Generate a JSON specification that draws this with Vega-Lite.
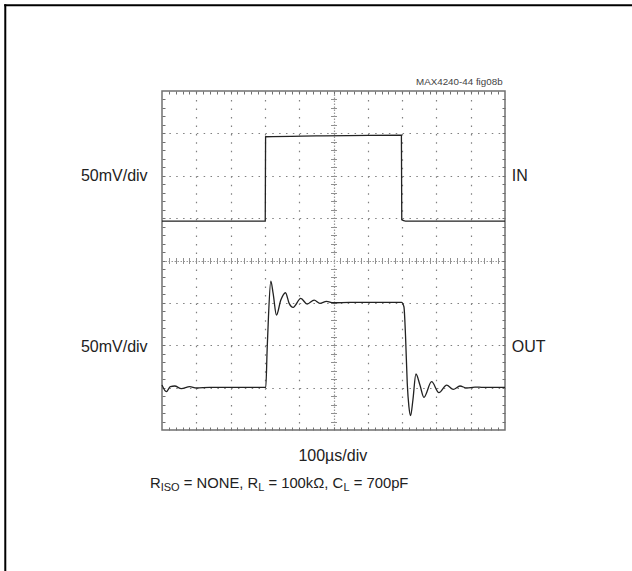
{
  "$schema": "https://vega.github.io/schema/vega-lite/v6.json",
  "width": 343,
  "height": 339,
  "autosize": {"type": "none"},
  "padding": {"left": 162, "top": 91, "right": 127, "bottom": 141},
  "background": "white",
  "config": {"view": {"stroke": "#707070", "strokeWidth": 1.5}},
  "datasets": {
    "traces": [
      {"trace": "IN", "t": 0, "v": 4.93},
      {"trace": "IN", "t": 3.01, "v": 4.93},
      {"trace": "IN", "t": 3.02, "v": 6.92},
      {"trace": "IN", "t": 4.5, "v": 6.94},
      {"trace": "IN", "t": 6.98, "v": 6.96},
      {"trace": "IN", "t": 6.99, "v": 4.96},
      {"trace": "IN", "t": 7.1, "v": 4.93},
      {"trace": "IN", "t": 10, "v": 4.93},
      {"trace": "OUT", "t": 0.0, "v": 1.061},
      {"trace": "OUT", "t": 0.127, "v": 0.904},
      {"trace": "OUT", "t": 0.244, "v": 1.022},
      {"trace": "OUT", "t": 0.371, "v": 1.038},
      {"trace": "OUT", "t": 0.565, "v": 0.975},
      {"trace": "OUT", "t": 0.808, "v": 1.022},
      {"trace": "OUT", "t": 1.003, "v": 0.991},
      {"trace": "OUT", "t": 1.392, "v": 1.006},
      {"trace": "OUT", "t": 3.026, "v": 1.006},
      {"trace": "OUT", "t": 3.065, "v": 1.887},
      {"trace": "OUT", "t": 3.104, "v": 2.673},
      {"trace": "OUT", "t": 3.172, "v": 3.514},
      {"trace": "OUT", "t": 3.24, "v": 3.224},
      {"trace": "OUT", "t": 3.337, "v": 2.712},
      {"trace": "OUT", "t": 3.464, "v": 3.066},
      {"trace": "OUT", "t": 3.6, "v": 3.239},
      {"trace": "OUT", "t": 3.707, "v": 2.988},
      {"trace": "OUT", "t": 3.823, "v": 2.893},
      {"trace": "OUT", "t": 4.047, "v": 3.105},
      {"trace": "OUT", "t": 4.232, "v": 2.972},
      {"trace": "OUT", "t": 4.436, "v": 3.066},
      {"trace": "OUT", "t": 4.602, "v": 2.988},
      {"trace": "OUT", "t": 4.796, "v": 3.035},
      {"trace": "OUT", "t": 4.991, "v": 3.003},
      {"trace": "OUT", "t": 5.477, "v": 3.011},
      {"trace": "OUT", "t": 6.985, "v": 3.011},
      {"trace": "OUT", "t": 7.053, "v": 2.909},
      {"trace": "OUT", "t": 7.101, "v": 2.201},
      {"trace": "OUT", "t": 7.15, "v": 1.101},
      {"trace": "OUT", "t": 7.199, "v": 0.55},
      {"trace": "OUT", "t": 7.248, "v": 0.338},
      {"trace": "OUT", "t": 7.315, "v": 0.708},
      {"trace": "OUT", "t": 7.403, "v": 1.321},
      {"trace": "OUT", "t": 7.52, "v": 1.061},
      {"trace": "OUT", "t": 7.636, "v": 0.771},
      {"trace": "OUT", "t": 7.86, "v": 1.14},
      {"trace": "OUT", "t": 8.074, "v": 0.881},
      {"trace": "OUT", "t": 8.298, "v": 1.061},
      {"trace": "OUT", "t": 8.492, "v": 0.959},
      {"trace": "OUT", "t": 8.687, "v": 1.038},
      {"trace": "OUT", "t": 8.881, "v": 0.991},
      {"trace": "OUT", "t": 9.125, "v": 1.014},
      {"trace": "OUT", "t": 9.368, "v": 1.006},
      {"trace": "OUT", "t": 10.0, "v": 1.006}
    ],
    "leftLabels": [
      {"x": -0.42, "y": 6, "label": "50mV/div"},
      {"x": -0.42, "y": 1.97, "label": "50mV/div"}
    ],
    "rightLabels": [
      {"x": 10.2, "y": 6, "label": "IN"},
      {"x": 10.2, "y": 1.97, "label": "OUT"}
    ],
    "figId": [{"x": 9.93, "y": 8.205, "label": "MAX4240-44 fig08b"}],
    "xTitle": [{"x": 4.98, "y": -0.61, "label": "100µs/div"}],
    "caption": [
      {"x": -0.35, "y": -1.281, "label": "R"},
      {"x": 0.636, "y": -1.281, "label": "= NONE, R"},
      {"x": 3.102, "y": -1.281, "label": "= 100kΩ, C"},
      {"x": 5.589, "y": -1.281, "label": "= 700pF"}
    ],
    "subscripts": [
      {"x": -0.038, "y": -1.375, "label": "ISO"},
      {"x": 2.805, "y": -1.375, "label": "L"},
      {"x": 5.292, "y": -1.375, "label": "L"}
    ],
    "frame": [
      {"x": -4.6, "x2": 13.93, "y": 10.023, "y2": 10.023},
      {"x": -4.569, "x2": -4.569, "y": 10.05, "y2": -3.54}
    ]
  },
  "layer": [
    {
      "data": {"name": "traces"},
      "mark": {"type": "line", "color": "#222222", "strokeWidth": 1.3, "interpolate": "monotone"},
      "encoding": {
        "x": {"field": "t", "type": "quantitative",
          "scale": {"domain": [0, 10], "nice": false, "zero": false},
          "axis": {"orient": "bottom", "values": [1, 2, 3, 4, 5, 6, 7, 8, 9], "grid": true, "ticks": false, "domain": false, "labels": false, "title": null,
            "gridColor": {"condition": {"test": "datum.value === 5", "value": "#999999"}, "value": "#808080"},
            "gridWidth": 1.2,
            "gridDash": {"condition": {"test": "datum.value === 5", "value": [1.5, 1.5]}, "value": [1.5, 6.975]}}},
        "y": {"field": "v", "type": "quantitative",
          "scale": {"domain": [0, 8], "nice": false, "zero": false},
          "axis": {"orient": "left", "values": [1, 2, 3, 4, 5, 6, 7], "grid": true, "ticks": false, "domain": false, "labels": false, "title": null,
            "gridColor": {"condition": {"test": "datum.value === 4", "value": "#999999"}, "value": "#808080"},
            "gridWidth": 1.2,
            "gridDash": {"condition": {"test": "datum.value === 4", "value": [1.5, 1.5]}, "value": [1.5, 5.36]}}},
        "detail": {"field": "trace", "type": "nominal"}
      }
    },
    {
      "data": {"name": "leftLabels"},
      "mark": {"type": "text", "align": "right", "baseline": "middle", "font": "Liberation Sans", "fontSize": 16, "color": "#222222"},
      "encoding": {
        "x": {"field": "x", "type": "quantitative", "scale": {"domain": [0, 10], "nice": false, "zero": false},
          "axis": {"orient": "bottom", "offset": -3, "tickSize": 3, "ticks": true, "tickColor": "#707070", "tickWidth": 1, "grid": false, "domain": false, "labels": false, "title": null,
            "values": [0.2,0.4,0.6,0.8,1,1.2,1.4,1.6,1.8,2,2.2,2.4,2.6,2.8,3,3.2,3.4,3.6,3.8,4,4.2,4.4,4.6,4.8,5,5.2,5.4,5.6,5.8,6,6.2,6.4,6.6,6.8,7,7.2,7.4,7.6,7.8,8,8.2,8.4,8.6,8.8,9,9.2,9.4,9.6,9.8]}},
        "y": {"field": "y", "type": "quantitative", "scale": {"domain": [0, 8], "nice": false, "zero": false},
          "axis": {"orient": "left", "offset": -3, "tickSize": 3, "ticks": true, "tickColor": "#707070", "tickWidth": 1, "grid": false, "domain": false, "labels": false, "title": null,
            "values": [0.2,0.4,0.6,0.8,1,1.2,1.4,1.6,1.8,2,2.2,2.4,2.6,2.8,3,3.2,3.4,3.6,3.8,4,4.2,4.4,4.6,4.8,5,5.2,5.4,5.6,5.8,6,6.2,6.4,6.6,6.8,7,7.2,7.4,7.6,7.8]}},
        "text": {"field": "label", "type": "nominal"}
      }
    },
    {
      "data": {"name": "rightLabels"},
      "mark": {"type": "text", "align": "left", "baseline": "middle", "font": "Liberation Sans", "fontSize": 16, "color": "#222222"},
      "encoding": {
        "x": {"field": "x", "type": "quantitative", "scale": {"domain": [0, 10], "nice": false, "zero": false},
          "axis": {"orient": "top", "offset": -3, "tickSize": 3, "ticks": true, "tickColor": "#707070", "tickWidth": 1, "grid": false, "domain": false, "labels": false, "title": null,
            "values": [0.2,0.4,0.6,0.8,1,1.2,1.4,1.6,1.8,2,2.2,2.4,2.6,2.8,3,3.2,3.4,3.6,3.8,4,4.2,4.4,4.6,4.8,5,5.2,5.4,5.6,5.8,6,6.2,6.4,6.6,6.8,7,7.2,7.4,7.6,7.8,8,8.2,8.4,8.6,8.8,9,9.2,9.4,9.6,9.8]}},
        "y": {"field": "y", "type": "quantitative", "scale": {"domain": [0, 8], "nice": false, "zero": false},
          "axis": {"orient": "right", "offset": -3, "tickSize": 3, "ticks": true, "tickColor": "#707070", "tickWidth": 1, "grid": false, "domain": false, "labels": false, "title": null,
            "values": [0.2,0.4,0.6,0.8,1,1.2,1.4,1.6,1.8,2,2.2,2.4,2.6,2.8,3,3.2,3.4,3.6,3.8,4,4.2,4.4,4.6,4.8,5,5.2,5.4,5.6,5.8,6,6.2,6.4,6.6,6.8,7,7.2,7.4,7.6,7.8]}},
        "text": {"field": "label", "type": "nominal"}
      }
    },
    {
      "data": {"name": "figId"},
      "mark": {"type": "text", "align": "right", "baseline": "middle", "font": "Liberation Sans", "fontSize": 9.8, "color": "#444444"},
      "encoding": {
        "x": {"field": "x", "type": "quantitative", "scale": {"domain": [0, 10], "nice": false, "zero": false},
          "axis": {"orient": "bottom", "offset": -172.5, "tickSize": 6, "ticks": true, "tickColor": "#909090", "tickWidth": 1, "grid": false, "domain": false, "labels": false, "title": null,
            "values": [0.2,0.4,0.6,0.8,1,1.2,1.4,1.6,1.8,2,2.2,2.4,2.6,2.8,3,3.2,3.4,3.6,3.8,4,4.2,4.4,4.6,4.8,5.2,5.4,5.6,5.8,6,6.2,6.4,6.6,6.8,7,7.2,7.4,7.6,7.8,8,8.2,8.4,8.6,8.8,9,9.2,9.4,9.6,9.8]}},
        "y": {"field": "y", "type": "quantitative", "scale": {"domain": [0, 8], "nice": false, "zero": false},
          "axis": {"orient": "left", "offset": -174.5, "tickSize": 6, "ticks": true, "tickColor": "#909090", "tickWidth": 1, "grid": false, "domain": false, "labels": false, "title": null,
            "values": [0.2,0.4,0.6,0.8,1,1.2,1.4,1.6,1.8,2,2.2,2.4,2.6,2.8,3,3.2,3.4,3.6,3.8,4.2,4.4,4.6,4.8,5,5.2,5.4,5.6,5.8,6,6.2,6.4,6.6,6.8,7,7.2,7.4,7.6,7.8]}},
        "text": {"field": "label", "type": "nominal"}
      }
    },
    {
      "data": {"name": "xTitle"},
      "mark": {"type": "text", "align": "center", "baseline": "middle", "font": "Liberation Sans", "fontSize": 16, "color": "#222222"},
      "encoding": {
        "x": {"field": "x", "type": "quantitative", "scale": {"domain": [0, 10], "nice": false, "zero": false}, "axis": null},
        "y": {"field": "y", "type": "quantitative", "scale": {"domain": [0, 8], "nice": false, "zero": false}, "axis": null},
        "text": {"field": "label", "type": "nominal"}
      }
    },
    {
      "data": {"name": "caption"},
      "mark": {"type": "text", "align": "left", "baseline": "middle", "font": "Liberation Sans", "fontSize": 14.8, "color": "#222222"},
      "encoding": {
        "x": {"field": "x", "type": "quantitative", "scale": {"domain": [0, 10], "nice": false, "zero": false}, "axis": null},
        "y": {"field": "y", "type": "quantitative", "scale": {"domain": [0, 8], "nice": false, "zero": false}, "axis": null},
        "text": {"field": "label", "type": "nominal"}
      }
    },
    {
      "data": {"name": "subscripts"},
      "mark": {"type": "text", "align": "left", "baseline": "middle", "font": "Liberation Sans", "fontSize": 11, "color": "#222222"},
      "encoding": {
        "x": {"field": "x", "type": "quantitative", "scale": {"domain": [0, 10], "nice": false, "zero": false}, "axis": null},
        "y": {"field": "y", "type": "quantitative", "scale": {"domain": [0, 8], "nice": false, "zero": false}, "axis": null},
        "text": {"field": "label", "type": "nominal"}
      }
    },
    {
      "data": {"name": "frame"},
      "mark": {"type": "rule", "color": "#000000", "strokeWidth": 2},
      "encoding": {
        "x": {"field": "x", "type": "quantitative", "scale": {"domain": [0, 10], "nice": false, "zero": false}, "axis": null},
        "x2": {"field": "x2"},
        "y": {"field": "y", "type": "quantitative", "scale": {"domain": [0, 8], "nice": false, "zero": false}, "axis": null},
        "y2": {"field": "y2"}
      }
    }
  ],
  "resolve": {"axis": {"x": "independent", "y": "independent"}}
}
